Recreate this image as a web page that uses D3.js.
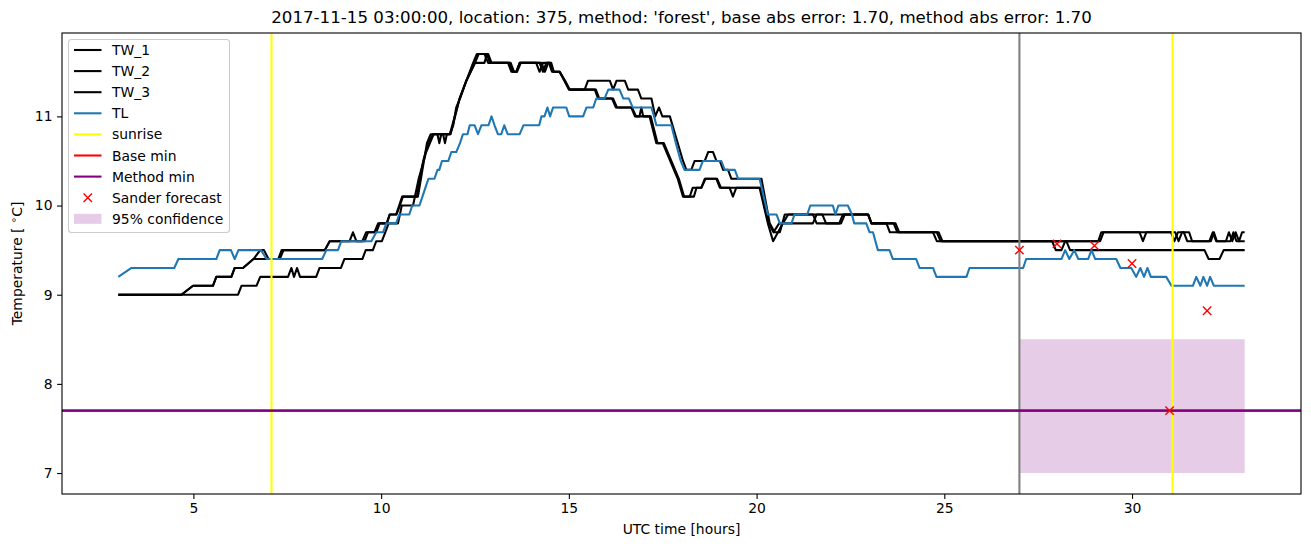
<!DOCTYPE html>
<html><head><meta charset="utf-8">
<script src="https://cdn.jsdelivr.net/npm/d3@7"></script>
<style>
body{margin:0;background:#fff;}
svg{display:block;}
text{font-family:"DejaVu Sans",sans-serif;fill:#000;}
</style>
</head><body>
<svg id="chart" width="1311" height="547"></svg>
<script>
// ---------- data ----------
const titleText = "2017-11-15 03:00:00, location: 375, method: 'forest', base abs error: 1.70, method abs error: 1.70";
const xTicks = [5, 10, 15, 20, 25, 30];
const yTicks = [7, 8, 9, 10, 11];

const tw1 = [[3.0,9.0],[6.19,9.0],[6.28,9.1],[6.68,9.1],[6.78,9.2],[7.52,9.2],[7.61,9.3],[7.68,9.2],[7.76,9.3],[7.84,9.2],[8.27,9.2],[8.36,9.3],[8.93,9.3],[9.02,9.4],[9.5,9.4],[9.59,9.5],[9.78,9.5],[9.87,9.6],[10.02,9.6],[10.11,9.7],[10.2,9.8],[10.45,9.8],[10.55,10.0],[10.85,10.0],[11.0,10.3],[11.2,10.6],[11.3,10.7],[11.4,10.8],[11.83,10.8],[11.92,10.9],[12.0,11.1],[12.1,11.2],[12.27,11.4],[12.45,11.6],[12.55,11.7],[12.85,11.7],[12.94,11.6],[13.38,11.6],[13.47,11.5],[13.6,11.5],[13.69,11.6],[14.13,11.6],[14.22,11.5],[14.31,11.6],[14.47,11.6],[14.55,11.5],[14.75,11.5],[14.88,11.4],[15.0,11.3],[15.69,11.3],[15.78,11.2],[16.15,11.2],[16.25,11.1],[16.66,11.1],[16.76,11.0],[16.88,11.0],[16.93,11.1],[16.98,11.0],[17.15,11.0],[17.33,10.7],[17.5,10.7],[17.9,10.3],[18.04,10.1],[18.22,10.1],[18.3,10.2],[18.53,10.2],[18.62,10.3],[18.93,10.3],[19.02,10.2],[19.28,10.2],[19.37,10.1],[19.46,10.2],[20.08,10.2],[20.3,9.8],[20.44,9.6],[20.57,9.7],[20.7,9.8],[20.84,9.9],[21.5,9.9],[21.6,9.8],[22.2,9.8],[22.3,9.9],[22.97,9.9],[23.06,9.8],[23.46,9.8],[23.55,9.7],[24.7,9.7],[24.8,9.6],[28.25,9.6],[28.35,9.5],[31.93,9.5],[32.04,9.4],[32.33,9.4],[32.44,9.5],[33.0,9.5]];

const tw2 = [[3.0,9.0],[4.68,9.0],[4.99,9.1],[5.52,9.1],[5.61,9.2],[6.01,9.2],[6.1,9.3],[6.32,9.3],[6.6,9.4],[6.78,9.5],[6.88,9.5],[7.0,9.4],[7.26,9.4],[7.35,9.5],[8.5,9.5],[8.63,9.6],[9.5,9.6],[9.6,9.7],[9.82,9.7],[9.92,9.8],[10.15,9.8],[10.23,9.9],[10.41,9.9],[10.5,10.0],[10.58,10.1],[10.95,10.1],[11.12,10.5],[11.25,10.7],[11.38,10.8],[11.5,10.8],[11.55,10.7],[11.6,10.8],[11.83,10.8],[12.09,11.2],[12.27,11.4],[12.5,11.6],[12.75,11.6],[12.82,11.7],[12.9,11.6],[13.42,11.6],[13.51,11.5],[13.6,11.5],[13.69,11.6],[14.22,11.6],[14.31,11.5],[14.4,11.6],[14.5,11.6],[14.58,11.5],[14.75,11.5],[14.9,11.4],[15.02,11.3],[15.72,11.3],[15.81,11.2],[16.18,11.2],[16.28,11.1],[16.68,11.1],[16.79,11.0],[17.18,11.0],[17.36,10.7],[17.53,10.7],[17.93,10.3],[18.07,10.1],[18.33,10.1],[18.4,10.2],[18.53,10.2],[18.64,10.3],[18.95,10.3],[19.05,10.2],[20.1,10.2],[20.32,9.8],[20.45,9.7],[20.6,9.8],[21.5,9.8],[21.6,9.9],[21.75,9.9],[21.85,9.8],[22.25,9.8],[22.35,9.9],[22.97,9.9],[23.06,9.8],[23.65,9.8],[23.75,9.7],[24.8,9.7],[24.9,9.6],[27.87,9.6],[27.97,9.5],[28.12,9.5],[28.22,9.6],[29.1,9.6],[29.18,9.7],[30.2,9.7],[30.29,9.6],[30.38,9.7],[31.04,9.7],[31.13,9.6],[31.22,9.7],[31.38,9.7],[31.47,9.6],[32.06,9.6],[32.15,9.7],[32.24,9.6],[32.5,9.6],[32.58,9.7],[32.67,9.6],[32.76,9.7],[32.85,9.6],[32.93,9.7],[33.0,9.7]];

const tw3 = [[3.0,9.0],[4.68,9.0],[4.99,9.1],[5.52,9.1],[5.61,9.2],[6.01,9.2],[6.1,9.3],[6.32,9.3],[6.6,9.4],[7.3,9.4],[7.4,9.5],[8.5,9.5],[8.63,9.6],[9.16,9.6],[9.25,9.7],[9.34,9.6],[9.56,9.6],[9.65,9.7],[9.87,9.7],[9.96,9.8],[10.15,9.8],[10.23,9.9],[10.4,9.9],[10.48,10.0],[10.56,10.1],[10.98,10.1],[11.1,10.4],[11.22,10.7],[11.32,10.8],[11.65,10.8],[11.7,10.7],[11.75,10.8],[11.85,10.8],[12.09,11.2],[12.27,11.4],[12.5,11.6],[12.6,11.7],[12.75,11.7],[12.85,11.6],[13.45,11.6],[13.54,11.5],[13.62,11.5],[13.72,11.6],[14.27,11.6],[14.36,11.5],[14.45,11.6],[14.53,11.6],[14.6,11.5],[14.76,11.5],[14.89,11.4],[15.02,11.3],[15.42,11.3],[15.51,11.4],[16.09,11.4],[16.18,11.3],[16.27,11.4],[16.49,11.4],[16.58,11.3],[16.84,11.3],[16.93,11.2],[17.2,11.2],[17.3,11.0],[17.4,11.1],[17.49,11.0],[17.69,11.0],[18.04,10.5],[18.13,10.4],[18.26,10.4],[18.35,10.5],[18.62,10.5],[18.71,10.6],[18.84,10.6],[18.93,10.5],[19.02,10.5],[19.11,10.4],[19.24,10.4],[19.33,10.3],[20.13,10.3],[20.35,9.8],[20.48,9.7],[20.62,9.7],[20.75,9.9],[22.97,9.9],[23.06,9.8],[23.7,9.8],[23.8,9.7],[24.85,9.7],[24.95,9.6],[29.15,9.6],[29.24,9.7],[31.15,9.7],[31.24,9.6],[31.33,9.7],[31.52,9.7],[31.6,9.6],[32.1,9.6],[32.18,9.7],[32.26,9.6],[32.62,9.6],[32.7,9.7],[32.78,9.6],[33.0,9.6]];

const tl = [[3.0,9.2],[3.35,9.3],[4.49,9.3],[4.6,9.4],[5.61,9.4],[5.7,9.5],[6.0,9.5],[6.1,9.4],[6.2,9.5],[6.8,9.5],[6.95,9.4],[8.43,9.4],[8.54,9.5],[8.85,9.5],[8.94,9.6],[9.74,9.6],[9.87,9.7],[10.05,9.7],[10.14,9.8],[10.4,9.8],[10.48,9.9],[10.75,9.9],[10.83,10.0],[11.02,10.0],[11.1,10.1],[11.18,10.2],[11.26,10.3],[11.42,10.3],[11.5,10.4],[11.55,10.4],[11.62,10.5],[11.79,10.5],[11.87,10.6],[12.0,10.6],[12.1,10.7],[12.18,10.8],[12.3,10.8],[12.36,10.9],[12.49,10.9],[12.58,10.8],[12.67,10.9],[12.86,10.9],[12.94,11.0],[13.02,10.9],[13.11,10.8],[13.2,10.8],[13.28,10.9],[13.37,10.8],[13.69,10.8],[13.79,10.9],[14.21,10.9],[14.27,11.0],[14.35,11.0],[14.43,11.1],[14.5,11.0],[14.58,11.1],[14.93,11.1],[15.01,11.0],[15.38,11.0],[15.47,11.1],[15.65,11.1],[15.73,11.2],[15.95,11.2],[16.05,11.3],[16.35,11.3],[16.45,11.2],[16.6,11.2],[16.7,11.1],[17.2,11.1],[17.27,11.0],[17.33,10.9],[17.73,10.9],[17.85,10.7],[17.98,10.5],[18.08,10.4],[18.48,10.4],[18.57,10.5],[19.06,10.5],[19.15,10.4],[19.42,10.4],[19.51,10.3],[20.08,10.3],[20.3,9.9],[20.53,9.9],[20.62,9.8],[20.93,9.8],[21.01,9.9],[21.35,9.9],[21.43,10.0],[22.03,10.0],[22.1,9.9],[22.18,10.0],[22.43,10.0],[22.54,9.9],[22.6,9.8],[22.92,9.8],[23.01,9.7],[23.1,9.7],[23.23,9.5],[23.54,9.5],[23.63,9.4],[24.25,9.4],[24.34,9.3],[24.7,9.3],[24.79,9.2],[25.59,9.2],[25.67,9.3],[27.1,9.3],[27.18,9.4],[28.12,9.4],[28.22,9.5],[28.33,9.4],[28.46,9.5],[28.57,9.4],[28.83,9.4],[28.92,9.5],[29.02,9.4],[29.58,9.4],[29.69,9.3],[29.98,9.3],[30.11,9.2],[30.22,9.3],[30.32,9.2],[30.41,9.3],[30.5,9.2],[30.91,9.2],[31.05,9.1],[31.62,9.1],[31.71,9.2],[31.82,9.1],[31.9,9.2],[32.0,9.1],[32.08,9.2],[32.18,9.1],[33.0,9.1]];

const forecastT = [27, 28, 29, 30, 31, 32];
const forecastV = [9.50, 9.57, 9.55, 9.35, 7.70, 8.82];
const confT = [27, 33];
const confLow = [7.0, 7.0];
const confHigh = [8.5, 8.5];
const sunriseT = [7.08, 31.08];
const forecastStartT = 27;
const baseMin = 7.7;
const methodMin = 7.7;
const legendLabels = ["TW_1", "TW_2", "TW_3", "TL", "sunrise", "Base min", "Method min", "Sander forecast", "95% confidence"];

// ---------- layout ----------
const svg = d3.select("#chart");
const L = 62, R = 1301, T = 33, B = 494;
const x = d3.scaleLinear().domain([1.5, 34.5]).range([L, R]);
const y = d3.scaleLinear().domain([6.765, 11.935]).range([B, T]);
const FS = 13.9;
const LW = 2.08;

svg.append("defs").append("clipPath").attr("id", "clip")
  .append("rect").attr("x", L).attr("y", T).attr("width", R - L).attr("height", B - T);

const plot = svg.append("g").attr("clip-path", "url(#clip)");

// confidence band
const band = confT.map((t, i) => ({t, lo: confLow[i], hi: confHigh[i]}));
plot.append("path").datum(band)
  .attr("d", d3.area().x(d => x(d.t)).y0(d => y(d.lo)).y1(d => y(d.hi)))
  .attr("fill", "purple").attr("fill-opacity", 0.2);

const line = d3.line().x(d => x(d[0])).y(d => y(d[1]));
[tw1, tw2, tw3].forEach(s => {
  plot.append("path").datum(s).attr("d", line)
    .attr("fill", "none").attr("stroke", "#000").attr("stroke-width", LW)
    .attr("stroke-linejoin", "round").attr("stroke-linecap", "butt");
});
plot.append("path").datum(tl).attr("d", line)
  .attr("fill", "none").attr("stroke", "#1f77b4").attr("stroke-width", LW)
  .attr("stroke-linejoin", "round");

// forecast start
plot.append("line").attr("x1", x(forecastStartT)).attr("x2", x(forecastStartT))
  .attr("y1", T).attr("y2", B).attr("stroke", "gray").attr("stroke-width", LW);

// sunrise
plot.selectAll(".sun").data(sunriseT).enter().append("line")
  .attr("x1", d => x(d)).attr("x2", d => x(d)).attr("y1", T).attr("y2", B)
  .attr("stroke", "yellow").attr("stroke-width", LW);

// base & method min
plot.append("line").attr("x1", L).attr("x2", R).attr("y1", y(baseMin)).attr("y2", y(baseMin))
  .attr("stroke", "red").attr("stroke-width", LW);
plot.append("line").attr("x1", L).attr("x2", R).attr("y1", y(methodMin)).attr("y2", y(methodMin))
  .attr("stroke", "purple").attr("stroke-width", LW);

// forecast markers
const mk = 4.2;
const xMarker = (cx, cy) => `M${cx-mk},${cy-mk}L${cx+mk},${cy+mk}M${cx-mk},${cy+mk}L${cx+mk},${cy-mk}`;
plot.selectAll(".fc").data(forecastT.map((t, i) => [t, forecastV[i]])).enter().append("path")
  .attr("d", d => xMarker(x(d[0]), y(d[1])))
  .attr("stroke", "red").attr("stroke-width", 1.4).attr("fill", "none");

// spines
svg.append("rect").attr("x", L).attr("y", T).attr("width", R - L).attr("height", B - T)
  .attr("fill", "none").attr("stroke", "#000").attr("stroke-width", 1.1);

// axes
const xAxis = svg.append("g").attr("transform", `translate(0,${B})`)
  .call(d3.axisBottom(x).tickValues(xTicks).tickSize(4.9).tickPadding(4.6).tickFormat(d3.format("d")));
const yAxis = svg.append("g").attr("transform", `translate(${L},0)`)
  .call(d3.axisLeft(y).tickValues(yTicks).tickSize(4.9).tickPadding(4.6).tickFormat(d3.format("d")));
[xAxis, yAxis].forEach(g => {
  g.select(".domain").remove();
  g.selectAll(".tick line").attr("stroke", "#000").attr("stroke-width", 1.1);
  g.selectAll(".tick text").attr("font-size", FS).attr("font-family", "DejaVu Sans").attr("fill", "#000");
});

// title and labels
svg.append("text").attr("x", (L + R) / 2).attr("y", 23).attr("text-anchor", "middle")
  .attr("font-size", 16.67).text(titleText);
svg.append("text").attr("x", (L + R) / 2).attr("y", 534).attr("text-anchor", "middle")
  .attr("font-size", FS).text("UTC time [hours]");
const yl = svg.append("text").attr("transform", `translate(22,${(T + B) / 2}) rotate(-90)`)
  .attr("text-anchor", "middle").attr("font-size", FS);
yl.append("tspan").text("Temperature [ ");
yl.append("tspan").attr("font-size", 10).attr("dy", -5).text("∘");
yl.append("tspan").attr("dy", 5).text("C]");

// legend
const lg = svg.append("g");
lg.append("rect").attr("x", 68.5).attr("y", 39.5).attr("width", 161).attr("height", 193).attr("rx", 3)
  .attr("fill", "#fff").attr("fill-opacity", 0.8).attr("stroke", "#cccccc").attr("stroke-width", 1.1);
const legColors = ["#000", "#000", "#000", "#1f77b4", "yellow", "red", "purple"];
legendLabels.forEach((lab, i) => {
  const cy = 50 + i * 21.1;
  if (i < 7) {
    lg.append("line").attr("x1", 74).attr("x2", 101.5).attr("y1", cy).attr("y2", cy)
      .attr("stroke", legColors[i]).attr("stroke-width", LW);
  } else if (i === 7) {
    lg.append("path").attr("d", xMarker(87.8, cy)).attr("stroke", "red").attr("stroke-width", 1.4).attr("fill", "none");
  } else {
    lg.append("rect").attr("x", 74).attr("y", cy - 5).attr("width", 27.5).attr("height", 10)
      .attr("fill", "purple").attr("fill-opacity", 0.2);
  }
  lg.append("text").attr("x", 112).attr("y", cy).attr("dy", "0.36em").attr("font-size", FS).text(lab);
});
</script>
</body></html>
